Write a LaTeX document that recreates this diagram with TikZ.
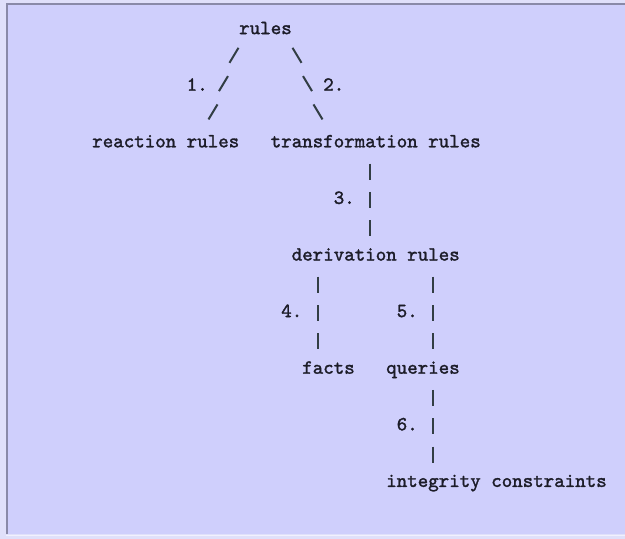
\documentclass[tikz,border=0pt]{standalone}
\usepackage{fontspec}
\newfontfamily\diagfont{lmmono10-regular.otf}[FakeBold=1.6]
\definecolor{bgpanel}{RGB}{207,207,252}
\definecolor{bgout}{RGB}{224,224,250}
\definecolor{frameline}{RGB}{138,138,168}
\definecolor{ink}{RGB}{28,28,40}
\definecolor{barink}{RGB}{50,62,68}
\begin{document}
\begin{tikzpicture}[x=1pt,y=-1pt,
  lbl/.style={anchor=base, inner sep=0pt, text=ink, font=\fontsize{20}{24}\selectfont\diagfont},
  barline/.style={draw=barink, line width=2pt, dash pattern=on 16pt off 12.3pt},
  slantline/.style={draw=barink, line width=2pt},
  num/.style={lbl, pos=0.5}
]
\useasboundingbox (0,0) rectangle (625,539);
\fill[bgout] (0,0) rectangle (625,539);
\fill[bgpanel] (6,3) rectangle (625,534);
\draw[frameline, line width=1.5pt] (6.75,534) -- (6.75,3.75) -- (625,3.75);
\draw[white!70!bgpanel, line width=1pt] (6,535.5) -- (625,535.5);

\node[lbl] (rules) at (265.5,34.1) {rules};
\node[lbl] (reaction) at (165.75,147.3) {reaction rules};
\node[lbl] (trans) at (375.75,147.3) {transformation rules};
\node[lbl] (deriv) at (375.75,260.5) {derivation rules};
\node[lbl] (facts) at (328.5,373.7) {facts};
\node[lbl] (queries) at (423,373.7) {queries};
\node[lbl] (integ) at (496.5,486.9) {integrity constraints};

\draw[slantline] ([shift={(-27,13.7)}]rules.base) -- ++(-9,15) ++(-1.5,13.3)
  -- node[num, xshift=-26.25pt, yshift=-7.1pt] (l1) {1.} ++(-9,15) ++(-1.5,13.3)
  -- ([shift={(42.75,-27.9)}]reaction.base);
\draw[slantline] ([shift={(27,13.7)}]rules.base) -- ++(9,15) ++(1.5,13.3)
  -- node[num, xshift=26.25pt, yshift=-7.1pt] (l2) {2.} ++(9,15) ++(1.5,13.3)
  -- ([shift={(-53.25,-27.9)}]trans.base);
\draw[barline] ([shift={(-5.75,16.2)}]trans.base) -- node[num, xshift=-25.75pt, yshift=-4.1pt] (l3) {3.} ([shift={(-5.75,-24.4)}]deriv.base);
\draw[barline] ([shift={(-57.75,16.2)}]deriv.base) -- node[num, xshift=-26.25pt, yshift=-4.1pt] (l4) {4.} ([shift={(-10.5,-24.4)}]facts.base);
\draw[barline] ([shift={(57.25,16.2)}]deriv.base) -- node[num, xshift=-25.75pt, yshift=-4.1pt] (l5) {5.} ([shift={(10,-24.4)}]queries.base);
\draw[barline] ([shift={(10,16.2)}]queries.base) -- node[num, xshift=-25.75pt, yshift=-4.1pt] (l6) {6.} ([shift={(-63.5,-24.4)}]integ.base);
\end{tikzpicture}
\end{document}
